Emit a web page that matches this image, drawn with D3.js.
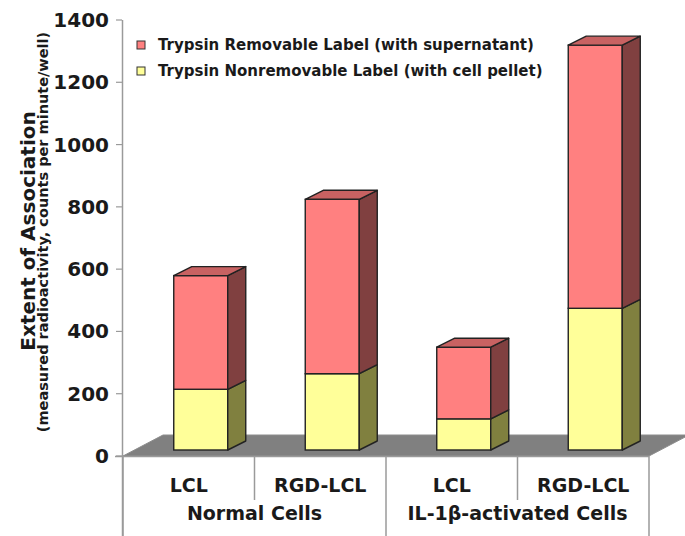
<html>
  <head>
    <script src="https://d3js.org/d3.v7.min.js" charset="utf-8"></script>
    <style>
      body { margin: 0; background: #fff; }
      text { font-family: "DejaVu Sans", Arial, sans-serif; font-weight: bold; fill: #1a1a1a; }
    </style>
  </head>
  <body>
    <script>
      var w = 685;
      var h = 536;

      // data
      var categories = ["LCL", "RGD-LCL", "LCL", "RGD-LCL"];
      var groups = ["Normal Cells", "IL-1\u03b2-activated Cells"];
      var nonremovable = [195, 245, 100, 455];
      var removable = [365, 560, 230, 845];
      var yTicks = [0, 200, 400, 600, 800, 1000, 1200, 1400];
      var seriesNames = ["Trypsin Removable Label (with supernatant)", "Trypsin Nonremovable Label (with cell pellet)"];

      var svg = d3.select("body").append("svg")
        .attr("width", w)
        .attr("height", h);

      var x = d3.scaleBand().domain(d3.range(categories.length)).range([123, 649]);
      var y = d3.scaleLinear().domain([0, 1400]).range([456, 20]);

      // 3d offsets
      var floorD = {x: 40, y: -21};
      var front = {x: 12, y: -6};
      var depth = {x: 18, y: -9};
      var barW = 54;

      var colors = {
        pellet: {front: "#ffff99", side: "#80803f", top: "#c8c870"},
        super: {front: "#ff8080", side: "#804040", top: "#c86262"}
      };

      // floor
      var x0 = x.range()[0], x1 = x.range()[1], y0 = y(0);
      svg.append("path")
        .attr("d", "M" + x0 + "," + y0 + "L" + x1 + "," + y0 + "L" + (x1 + floorD.x) + "," + (y0 + floorD.y) +
          "L" + (x0 + floorD.x) + "," + (y0 + floorD.y) + "Z")
        .attr("fill", "#808080")
        .attr("stroke", "#8c8c8c")
        .attr("stroke-width", 1);

      // stacked data
      var rows = categories.map(function(c, i) {
        return {i: i, pellet: nonremovable[i], super: removable[i]};
      });
      var stack = d3.stack().keys(["pellet", "super"])(rows);

      var bars = svg.selectAll(".bar")
        .data(rows)
        .enter()
        .append("g")
        .attr("class", "bar");

      bars.each(function(d, i) {
        var g = d3.select(this);
        var bx = x(i) + x.bandwidth() / 2 - barW / 2 + front.x;
        stack.forEach(function(s, k) {
          var seg = s[i];
          var yb = y(seg[0]) + front.y;
          var yt = y(seg[1]) + front.y;
          var col = colors[s.key];
          // front face
          g.append("rect")
            .attr("x", bx).attr("y", yt)
            .attr("width", barW).attr("height", yb - yt)
            .attr("fill", col.front)
            .attr("stroke", "#222").attr("stroke-width", 1.4);
          // side face
          var rx = bx + barW;
          g.append("path")
            .attr("d", "M" + rx + "," + yb + "L" + rx + "," + yt + "L" + (rx + depth.x) + "," + (yt + depth.y) +
              "L" + (rx + depth.x) + "," + (yb + depth.y) + "Z")
            .attr("fill", col.side)
            .attr("stroke", "#222").attr("stroke-width", 1.4).attr("stroke-linejoin", "round");
          // top face only for last segment
          if (k == stack.length - 1) {
            g.append("path")
              .attr("d", "M" + bx + "," + yt + "L" + rx + "," + yt + "L" + (rx + depth.x) + "," + (yt + depth.y) +
                "L" + (bx + depth.x) + "," + (yt + depth.y) + "Z")
              .attr("fill", col.top)
              .attr("stroke", "#222").attr("stroke-width", 1.4).attr("stroke-linejoin", "round");
          }
        });
      });

      // y axis
      svg.append("line")
        .attr("x1", 122.5).attr("x2", 122.5)
        .attr("y1", y(1400)).attr("y2", h)
        .attr("stroke", "#9a9a9a").attr("stroke-width", 1.5);

      svg.append("line")
        .attr("x1", 115).attr("x2", x1)
        .attr("y1", y0 + 0.5).attr("y2", y0 + 0.5)
        .attr("stroke", "#9a9a9a").attr("stroke-width", 1.5);

      svg.selectAll(".ytick")
        .data(yTicks)
        .enter()
        .append("line")
        .attr("class", "ytick")
        .attr("x1", 116).attr("x2", 122)
        .attr("y1", function(d){ return y(d); })
        .attr("y2", function(d){ return y(d); })
        .attr("stroke", "#9a9a9a").attr("stroke-width", 1.2);

      svg.selectAll(".ylab")
        .data(yTicks)
        .enter()
        .append("text")
        .attr("class", "ylab")
        .attr("x", 109)
        .attr("y", function(d){ return y(d) + 7; })
        .attr("text-anchor", "end")
        .attr("font-size", 20)
        .text(function(d){ return d; });

      svg.append("text")
        .attr("transform", "translate(35,231) rotate(-90)")
        .attr("text-anchor", "middle")
        .attr("font-size", 20)
        .text("Extent of Association");

      svg.append("text")
        .attr("transform", "translate(48,232) rotate(-90)")
        .attr("text-anchor", "middle")
        .attr("font-size", 14.5)
        .text("(measured radioactivity, counts per minute/well)");

      // x category dividers
      var divs = [0, 1, 2, 3, 4];
      svg.selectAll(".xdiv")
        .data(divs)
        .enter()
        .append("line")
        .attr("class", "xdiv")
        .attr("x1", function(d){ return d == 4 ? x1 : x(d); })
        .attr("x2", function(d){ return d == 4 ? x1 : x(d); })
        .attr("y1", y0)
        .attr("y2", function(d){ return d % 2 == 0 ? h : 500; })
        .attr("stroke", "#9a9a9a").attr("stroke-width", 1.5);

      svg.selectAll(".xlab")
        .data(categories)
        .enter()
        .append("text")
        .attr("class", "xlab")
        .attr("x", function(d, i){ return x(i) + x.bandwidth() / 2; })
        .attr("y", 492)
        .attr("text-anchor", "middle")
        .attr("font-size", 19)
        .text(function(d){ return d; });

      svg.selectAll(".glab")
        .data(groups)
        .enter()
        .append("text")
        .attr("class", "glab")
        .attr("x", function(d, i){ return x(i * 2) + x.bandwidth(); })
        .attr("y", 520)
        .attr("text-anchor", "middle")
        .attr("font-size", 19)
        .text(function(d){ return d; });

      // legend
      var legend = svg.selectAll(".legend")
        .data(seriesNames)
        .enter()
        .append("g")
        .attr("class", "legend")
        .attr("transform", function(d, i){ return "translate(137," + (41 + i * 26) + ")"; });

      legend.append("rect")
        .attr("width", 8).attr("height", 8)
        .attr("fill", function(d, i){ return i == 0 ? colors.super.front : colors.pellet.front; })
        .attr("stroke", "#333").attr("stroke-width", 1);

      legend.append("text")
        .attr("x", 21)
        .attr("y", 9)
        .attr("font-size", 15)
        .text(function(d){ return d; });
    </script>
  </body>
</html>
